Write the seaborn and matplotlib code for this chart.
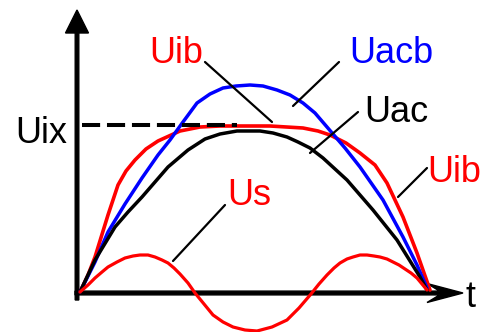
import matplotlib
matplotlib.use("Agg")
import matplotlib.pyplot as plt
import seaborn as sns

# 曲线数据（t, U），原点在坐标轴交点
t_uacb = [2, 17, 30, 47, 64, 80, 92, 105, 119, 132, 145, 158, 172, 185, 199, 212, 225, 237, 249, 267, 282, 305, 325, 339, 349]
u_uacb = [1, 31, 61, 89, 115, 138, 153, 171, 190, 199, 205, 207, 208, 207, 203, 198, 190, 180, 166, 145, 126, 93, 56, 28, 5]

t_uib = [2, 10, 17, 30, 40, 48, 57, 68, 80, 102, 122, 142, 192, 225, 240, 252, 268, 282, 297, 309, 325, 339, 352]
u_uib = [1, 18, 36, 78, 108, 122, 133, 144, 152, 162, 166, 167, 167, 165, 162, 158, 150, 140, 128, 110, 76, 40, 3]

t_uac = [2, 17, 37, 50, 64, 77, 90, 110, 127, 142, 159, 182, 195, 209, 220, 232, 245, 257, 269, 295, 319, 342, 349]
u_uac = [1, 33, 66, 81, 96, 111, 126, 143, 154, 159, 162, 162, 160, 156, 151, 145, 135, 124, 113, 83, 53, 16, 3]

t_us = [2, 10, 17, 24, 30, 39, 47, 55, 62, 70, 77, 84, 90, 96, 102, 110, 117, 126, 135, 145, 155, 167, 179, 194, 209, 221, 233, 241, 249,
        256, 262, 269, 275, 282, 289, 296, 302, 309, 315, 321, 327, 333, 339, 344, 349]
u_us = [1, 8, 15, 21, 26, 31, 35, 37, 38, 38, 36, 33, 30, 25, 19, 10, 0, -11, -22, -29, -34, -37, -38, -34, -27, -15, -1, 9, 18,
        25, 30, 34, 36, 38, 38, 37, 36, 34, 31, 28, 24, 20, 15, 9, 3]

uix = 168          # Uix 水平虚线的高度
uix_end = 159      # 虚线右端

sns.set_style("white")
plt.rcParams['font.family'] = ['Liberation Sans', 'DejaVu Sans']

fig = plt.figure(figsize=(4.92, 3.32), dpi=100)
ax = fig.add_axes([0, 0, 1, 1])
ax.set_xlim(-78, 414)
ax.set_ylim(-39, 293)
ax.axis('off')

# 坐标轴箭头
ax.arrow(-1, -7, 0, 290, width=3.6, head_width=23, head_length=23,
         length_includes_head=True, color='black', zorder=1)
ax.arrow(-3, 0, 388, 0, width=3.8, head_width=19, head_length=36, overhang=0.35,
         length_includes_head=True, color='black', zorder=1)

# 曲线
line_kw = dict(estimator=None, sort=False, ax=ax, solid_joinstyle='round', solid_capstyle='round')
sns.lineplot(x=t_uib, y=u_uib, color='#ff0000', linewidth=2.6, zorder=2, **line_kw)
sns.lineplot(x=t_uacb, y=u_uacb, color='#0000ff', linewidth=2.5, zorder=3, **line_kw)
sns.lineplot(x=t_uac, y=u_uac, color='black', linewidth=2.5, zorder=4, **line_kw)
sns.lineplot(x=t_us, y=u_us, color='#ff0000', linewidth=2.3, zorder=5, **line_kw)

# Uix 虚线
ax.plot([4, uix_end], [uix, uix], color='black', linewidth=2.9, linestyle=(0, (4.5, 1.7)), zorder=6)

# 引线
leaders = [((127, 231), (194, 171)),
           ((261, 231), (215, 187)),
           ((280, 181), (232, 140)),
           ((349, 125), (320, 96)),
           ((147, 88), (95, 32))]
for (x0, y0), (x1, y1) in leaders:
    ax.plot([x0, x1], [y0, y1], color='black', linewidth=1.6, zorder=7)

# 标注文字
fs = 26
ax.text(71, 230, 'Uib', color='#ff0000', fontsize=fs, va='baseline')
ax.text(271, 230, 'Uacb', color='#0000ff', fontsize=fs, va='baseline')
ax.text(286, 171, 'Uac', color='black', fontsize=fs, va='baseline')
ax.text(-63, 150, 'Uix', color='black', fontsize=fs, va='baseline')
ax.text(349, 111, 'Uib', color='#ff0000', fontsize=fs, va='baseline')
ax.text(149, 88, 'Us', color='#ff0000', fontsize=fs, va='baseline')
ax.text(388, -14, 't', color='black', fontsize=fs, va='baseline')

plt.savefig('out.png', dpi=100)
